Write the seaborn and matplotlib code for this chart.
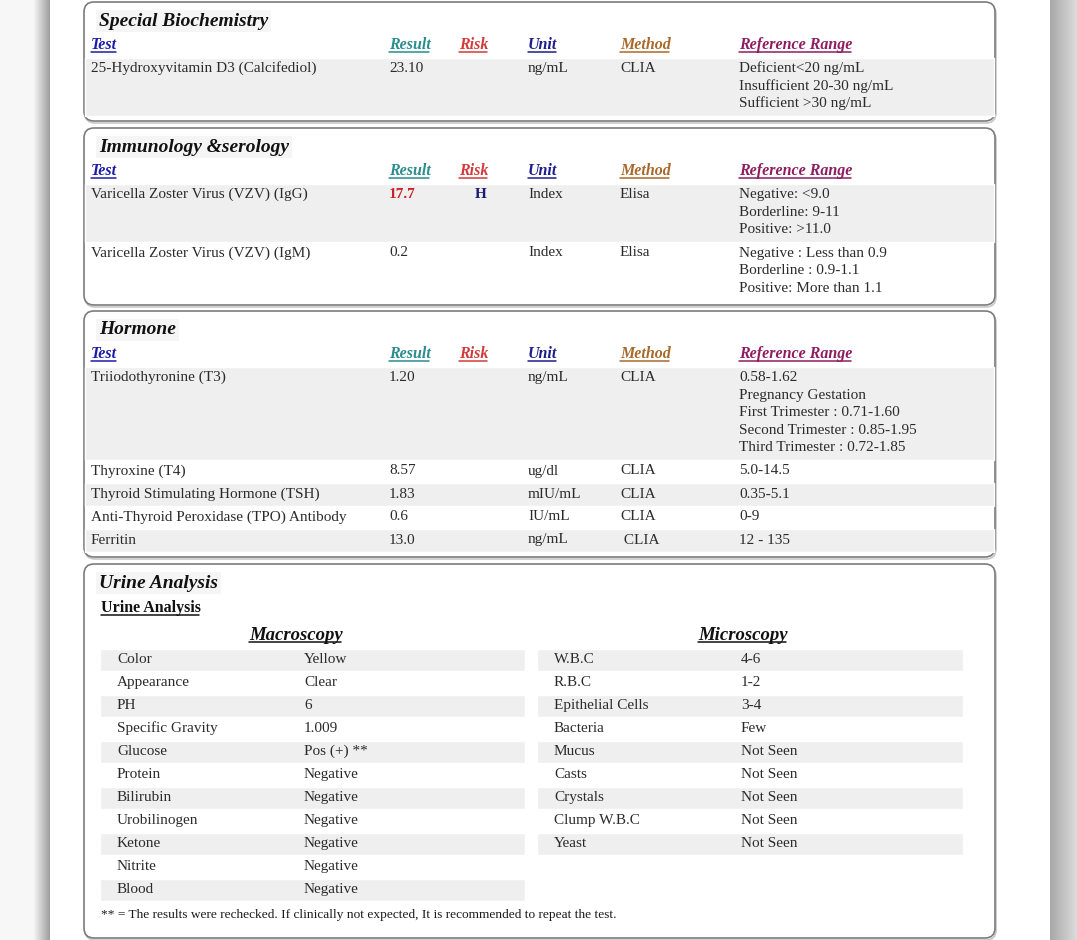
import numpy as np
import matplotlib.pyplot as plt
import seaborn as sns
from matplotlib.patches import FancyBboxPatch

# datos del informe
bio_tests = ["25-Hydroxyvitamin D3 (Calcifediol)"]
bio_results = ["23.10"]
bio_risks = [""]
bio_units = ["ng/mL"]
bio_methods = ["CLIA"]
bio_ranges = [["Deficient<20 ng/mL", "Insufficient 20-30 ng/mL", "Sufficient >30 ng/mL"]]

imm_tests = ["Varicella Zoster Virus (VZV) (IgG)", "Varicella Zoster Virus (VZV) (IgM)"]
imm_results = ["17.7", "0.2"]
imm_risks = ["H", ""]
imm_units = ["Index", "Index"]
imm_methods = ["Elisa", "Elisa"]
imm_ranges = [["Negative: <9.0", "Borderline: 9-11", "Positive: >11.0"],
              ["Negative : Less than 0.9", "Borderline : 0.9-1.1", "Positive: More than 1.1"]]

hor_tests = ["Triiodothyronine (T3)", "Thyroxine (T4)", "Thyroid Stimulating Hormone (TSH)",
             "Anti-Thyroid Peroxidase (TPO) Antibody", "Ferritin"]
hor_results = ["1.20", "8.57", "1.83", "0.6", "13.0"]
hor_risks = ["", "", "", "", ""]
hor_units = ["ng/mL", "ug/dl", "mIU/mL", "IU/mL", "ng/mL"]
hor_methods = ["CLIA", "CLIA", "CLIA", "CLIA", " CLIA"]
hor_ranges = [["0.58-1.62", "Pregnancy Gestation", "First Trimester : 0.71-1.60",
               "Second Trimester : 0.85-1.95", "Third Trimester : 0.72-1.85"],
              ["5.0-14.5"], ["0.35-5.1"], ["0-9"], ["12 - 135"]]

macro_labels = ["Color", "Appearance", "PH", "Specific Gravity", "Glucose", "Protein",
                "Bilirubin", "Urobilinogen", "Ketone", "Nitrite", "Blood"]
macro_values = ["Yellow", "Clear", "6", "1.009", "Pos (+) **", "Negative",
                "Negative", "Negative", "Negative", "Negative", "Negative"]
micro_labels = ["W.B.C", "R.B.C", "Epithelial Cells", "Bacteria", "Mucus", "Casts",
                "Crystals", "Clump W.B.C", "Yeast"]
micro_values = ["4-6", "1-2", "3-4", "Few", "Not Seen", "Not Seen", "Not Seen",
                "Not Seen", "Not Seen"]

headers = ["Test", "Result", "Risk", "Unit", "Method", "Reference Range"]
header_colors = ["#1c1ca8", "#2a8c8c", "#d23a3a", "#1c1c8c", "#a86a2c", "#8e1c60"]

sns.set_theme(style="white")
plt.rcParams['font.family'] = ['Liberation Serif', 'DejaVu Serif']

TXT = "#2b2b2b"
BAND = "#efefef"
BOX_L, BOX_R = 84, 995
FS = 11

fig = plt.figure(figsize=(10.77, 9.40), dpi=100)
ax = fig.add_axes([0, 0, 1, 1])

# fondo de la pagina y sombras
ax.imshow(np.full((1, 2), 0.965), extent=(0, 34, 940, 0), cmap='gray', vmin=0, vmax=1, aspect='auto')
ax.imshow(np.linspace(0.95, 0.62, 30)[np.newaxis, :], extent=(34, 50, 940, 0), cmap='gray',
          vmin=0, vmax=1, aspect='auto', interpolation='bilinear')
ax.imshow(np.linspace(0.66, 0.86, 30)[np.newaxis, :], extent=(1050, 1077, 940, 0), cmap='gray',
          vmin=0, vmax=1, aspect='auto', interpolation='bilinear')
ax.set_xlim(0, 1077)
ax.set_ylim(940, 0)
ax.axis('off')

underlines = []


def put(x, y, s, size=FS, color=TXT, weight='normal', style='normal', ha='left', ul=False, bg=None):
    kw = {}
    if bg:
        kw['bbox'] = dict(facecolor=bg, edgecolor='none', pad=2)
    t = ax.text(x, y, s, fontsize=size, color=color, fontweight=weight, fontstyle=style,
                ha=ha, va='center', zorder=5, **kw)
    if ul:
        underlines.append((t, color))
    return t


def caja(top, bot):
    ax.add_patch(FancyBboxPatch((BOX_L + 1, top + 2), BOX_R - BOX_L, bot - top,
                                boxstyle="round,pad=0,rounding_size=10",
                                fc='none', ec='#c8c8c8', lw=1.2, zorder=1))
    ax.add_patch(FancyBboxPatch((BOX_L, top), BOX_R - BOX_L, bot - top,
                                boxstyle="round,pad=0,rounding_size=10",
                                fc='white', ec='#7c7c7c', lw=1.2, zorder=2))


def seccion(top, bot, title, tests, results, risks, units, methods, ranges):
    caja(top, bot)
    put(99, top + 19, title, size=14, color='#111111', weight='bold', style='italic', bg='#f5f5f5')
    cols = [91, 389, 459, 528, 620, 739]
    for hx, h, c in zip(cols, headers, header_colors):
        put(hx, top + 43, h, size=11.5, color=c, weight='bold', style='italic', ul=True)
    y = top + 55.5
    centers, heights, shaded = [], [], []
    for i in range(len(tests)):
        n = len(ranges[i])
        h = 23 if n == 1 else 17.5 * n + 6
        centers.append(y + h / 2)
        heights.append(h)
        shaded.append(i % 2 == 0)
        fy = y + 11
        put(91, fy, tests[i])
        if risks[i]:
            put(389, fy, results[i], color='#cc2222', weight='bold')
            put(487, fy, risks[i], color='#1a1a6e', weight='bold', ha='right')
        else:
            put(389, fy, results[i])
        put(528, fy, units[i])
        put(620, fy, methods[i])
        for k, line in enumerate(ranges[i]):
            put(739, fy + 17.5 * k, line)
        y += h
    c = np.array(centers)
    hh = np.array(heights)
    m = np.array(shaded)
    ax.barh(c[m], width=BOX_R - BOX_L - 2, left=BOX_L + 1, height=hh[m], color=BAND, zorder=3)


seccion(2, 121, "Special Biochemistry", bio_tests, bio_results, bio_risks, bio_units, bio_methods, bio_ranges)
seccion(128, 305, "Immunology &serology", imm_tests, imm_results, imm_risks, imm_units, imm_methods, imm_ranges)
seccion(311, 557, "Hormone", hor_tests, hor_results, hor_risks, hor_units, hor_methods, hor_ranges)

# orina
caja(564, 938)
put(99, 583, "Urine Analysis", size=14, color='#111111', weight='bold', style='italic', bg='#f5f5f5')
put(101, 608, "Urine Analysis", size=11.5, color='#111111', weight='bold', ul=True)
put(296, 635, "Macroscopy", size=13.5, color='#111111', weight='bold', style='italic', ha='center', ul=True)
put(743, 635, "Microscopy", size=13.5, color='#111111', weight='bold', style='italic', ha='center', ul=True)

mac_y = 659.5 + 23 * np.arange(len(macro_labels))
mic_y = 659.5 + 23 * np.arange(len(micro_labels))
ax.barh(mac_y[::2], width=425, left=100, height=22, color=BAND, zorder=3)
ax.barh(mic_y[::2], width=426, left=537, height=22, color=BAND, zorder=3)
for yy, lab, val in zip(mac_y, macro_labels, macro_values):
    put(117, yy, lab)
    put(304, yy, val)
for yy, lab, val in zip(mic_y, micro_labels, micro_values):
    put(554, yy, lab)
    put(741, yy, val)

put(101, 915, "** = The results were rechecked. If clinically not expected, It is recommended to repeat the test.",
    size=9.6, color='#1a1a1a')

# subrayados
fig.canvas.draw()
renderer = fig.canvas.get_renderer()
inv = ax.transData.inverted()
for t, col in underlines:
    bb = t.get_window_extent(renderer)
    (x0, yb), (x1, yt) = inv.transform([[bb.x0, bb.y0], [bb.x1, bb.y1]])
    ax.plot([x0, x1 - 1.5], [yb - 1.5, yb - 1.5], color=col, lw=1.1, zorder=6)

fig.savefig("out.png", dpi=100)
